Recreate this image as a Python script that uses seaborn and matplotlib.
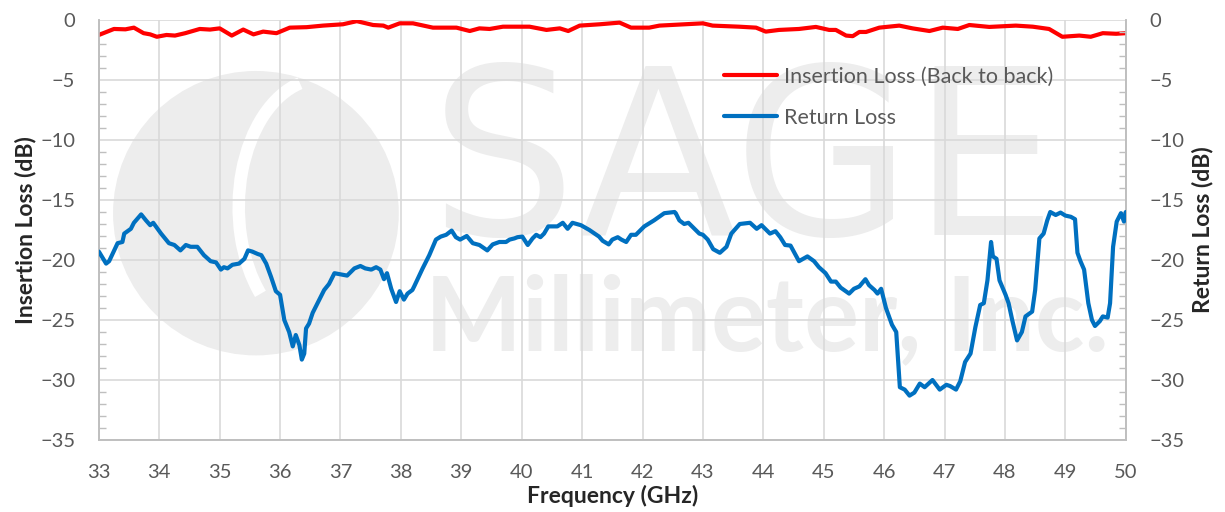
import pandas as pd
import matplotlib.pyplot as plt
import seaborn as sns
from matplotlib.patches import Ellipse, Arc
from matplotlib.ticker import MultipleLocator

# Insertion loss (back to back), left axis
il_freq = [33.00, 33.25, 33.44, 33.58, 33.74, 33.85, 33.96, 34.12, 34.26, 34.43,
           34.67, 34.84, 35.00, 35.20, 35.39, 35.56, 35.72, 35.94, 36.16, 36.44,
           36.71, 37.04, 37.27, 37.54, 37.71, 37.79, 37.98, 38.20, 38.53, 38.92,
           39.14, 39.30, 39.47, 39.69, 40.13, 40.41, 40.63, 40.77, 40.96, 41.29,
           41.62, 41.81, 42.11, 42.28, 43.00, 43.16, 43.60, 43.88, 44.04, 44.26,
           44.59, 44.87, 45.09, 45.20, 45.37, 45.48, 45.59, 45.70, 45.92, 46.25,
           46.47, 46.75, 46.97, 47.22, 47.41, 47.74, 48.18, 48.46, 48.73, 48.95,
           49.23, 49.42, 49.62, 49.84, 50.00]
il_db = [-1.25, -0.75, -0.78, -0.64, -1.10, -1.20, -1.40, -1.25, -1.30, -1.10,
         -0.75, -0.80, -0.70, -1.30, -0.80, -1.20, -0.97, -1.10, -0.64, -0.60,
         -0.47, -0.36, -0.10, -0.42, -0.47, -0.64, -0.28, -0.28, -0.64, -0.64,
         -0.92, -0.70, -0.75, -0.56, -0.56, -0.83, -0.70, -0.92, -0.47, -0.36,
         -0.22, -0.64, -0.64, -0.47, -0.28, -0.47, -0.56, -0.64, -0.97, -0.83,
         -0.75, -0.58, -0.83, -0.83, -1.30, -1.35, -1.00, -1.00, -0.64, -0.47,
         -0.70, -0.92, -0.64, -0.75, -0.42, -0.58, -0.47, -0.56, -0.75, -1.40,
         -1.30, -1.40, -1.10, -1.15, -1.10]

# Return loss, right axis
rl_freq = [33.00, 33.12, 33.17, 33.31, 33.39, 33.42, 33.53, 33.58, 33.70, 33.78,
           33.85, 33.90, 34.03, 34.16, 34.25, 34.35, 34.44, 34.52, 34.63, 34.74,
           34.85, 34.94, 35.02, 35.07, 35.13, 35.21, 35.32, 35.41, 35.47, 35.54,
           35.63, 35.69, 35.77, 35.85, 35.93, 36.00, 36.07, 36.15, 36.21, 36.26,
           36.32, 36.36, 36.40, 36.43, 36.48, 36.54, 36.62, 36.73, 36.81, 36.90,
           37.01, 37.11, 37.23, 37.33, 37.41, 37.51, 37.59, 37.66, 37.72, 37.77,
           37.84, 37.92, 37.98, 38.05, 38.11, 38.19, 38.22, 38.36, 38.47, 38.58,
           38.66, 38.75, 38.84, 38.91, 38.98, 39.09, 39.19, 39.30, 39.43, 39.52,
           39.63, 39.74, 39.80, 39.88, 39.93, 40.01, 40.10, 40.18, 40.24, 40.31,
           40.37, 40.44, 40.54, 40.59, 40.68, 40.76, 40.84, 40.98, 41.12, 41.28,
           41.34, 41.44, 41.50, 41.59, 41.65, 41.73, 41.81, 41.89, 42.03, 42.19,
           42.36, 42.53, 42.55, 42.61, 42.69, 42.76, 42.86, 42.94, 43.00, 43.08,
           43.17, 43.28, 43.39, 43.47, 43.61, 43.78, 43.89, 43.97, 44.11, 44.20,
           44.28, 44.36, 44.45, 44.59, 44.73, 44.84, 44.92, 45.03, 45.12, 45.20,
           45.28, 45.42, 45.50, 45.59, 45.69, 45.75, 45.84, 45.89, 45.95, 46.03,
           46.13, 46.20, 46.26, 46.34, 46.42, 46.50, 46.59, 46.67, 46.80, 46.92,
           47.03, 47.09, 47.19, 47.26, 47.34, 47.43, 47.51, 47.59, 47.65, 47.71,
           47.77, 47.80, 47.86, 47.91, 48.01, 48.06, 48.12, 48.20, 48.28, 48.34,
           48.45, 48.50, 48.57, 48.64, 48.70, 48.75, 48.84, 48.92, 49.00, 49.09,
           49.16, 49.20, 49.25, 49.31, 49.38, 49.44, 49.49, 49.57, 49.62, 49.70,
           49.74, 49.79, 49.85, 49.92, 49.97, 50.00]
rl_db = [-19.3, -20.3, -20.1, -18.6, -18.5, -17.8, -17.4, -16.9, -16.2, -16.7,
         -17.1, -16.9, -17.8, -18.6, -18.75, -19.2, -18.75, -18.9, -18.9, -19.6,
         -20.1, -20.2, -20.8, -20.6, -20.7, -20.4, -20.3, -19.9, -19.2, -19.3,
         -19.5, -19.6, -20.3, -21.4, -22.6, -22.9, -25.0, -26.0, -27.2, -26.25,
         -27.1, -28.3, -27.8, -25.7, -25.3, -24.4, -23.6, -22.5, -22.0, -21.1,
         -21.2, -21.3, -20.7, -20.5, -20.7, -20.8, -20.6, -20.8, -21.6, -21.1,
         -22.4, -23.5, -22.6, -23.3, -22.8, -22.5, -22.2, -20.7, -19.6, -18.3,
         -18.05, -17.9, -17.55, -18.1, -18.3, -18.0, -18.6, -18.75, -19.2, -18.7,
         -18.5, -18.5, -18.3, -18.2, -18.1, -18.05, -18.75, -18.2, -17.9, -18.1,
         -17.8, -17.2, -17.2, -17.2, -16.9, -17.4, -16.9, -17.1, -17.5, -18.05,
         -18.4, -18.7, -18.3, -18.1, -18.3, -18.5, -17.9, -17.9, -17.2, -16.7,
         -16.1, -16.0, -16.1, -16.7, -17.0, -16.9, -17.4, -17.8, -17.9, -18.3,
         -19.1, -19.4, -18.9, -17.8, -17.0, -16.9, -17.4, -17.1, -17.8, -17.6,
         -18.1, -18.75, -18.8, -20.1, -19.7, -20.1, -20.6, -21.1, -21.8, -21.8,
         -22.3, -22.8, -22.4, -22.2, -21.6, -22.1, -22.5, -22.8, -22.4, -24.0,
         -25.4, -26.0, -30.6, -30.8, -31.3, -31.05, -30.3, -30.6, -30.0, -30.8,
         -30.4, -30.5, -30.8, -30.1, -28.5, -27.8, -25.6, -23.75, -23.6, -21.7,
         -18.5, -19.7, -19.9, -21.7, -22.9, -23.6, -25.0, -26.7, -26.0, -24.7,
         -24.3, -22.5, -18.2, -17.8, -16.7, -16.0, -16.25, -16.05, -16.3, -16.4,
         -16.6, -19.4, -20.1, -20.8, -23.6, -25.0, -25.5, -25.1, -24.7, -24.8,
         -23.6, -18.9, -16.8, -16.1, -16.8, -16.0]

x_ticks = list(range(33, 51))
y_ticks = [0, -5, -10, -15, -20, -25, -30, -35]

il_df = pd.DataFrame({"freq": il_freq, "db": il_db})
rl_df = pd.DataFrame({"freq": rl_freq, "db": rl_db})

sns.set_style("white")
plt.rcParams["font.family"] = ["Lato", "DejaVu Sans"]

TICK_COLOR = "#595959"
SPINE_COLOR = "#bfbfbf"
GRID_COLOR = "#d9d9d9"
WM_COLOR = "#ededed"

fig = plt.figure(figsize=(12.25, 5.12), dpi=100)
ax = fig.add_axes([0.0807, 0.1406, 0.8383, 0.8204])
ax2 = ax.twinx()

# faint company logo / watermark behind the data
ax.add_patch(Ellipse((35.60, -16.1), 4.73, 23.7, color=WM_COLOR, lw=0, zorder=0.1))
ax.add_patch(Arc((36.69, -15.6), 2.75, 21.4, theta1=92, theta2=262,
                 color="white", lw=9, zorder=0.2))
ax.text(0.322, 0.488, "SAGE", transform=ax.transAxes, fontsize=166,
        family="DejaVu Sans", color=WM_COLOR, ha="left", va="baseline",
        zorder=0.1)
ax.text(0.318, 0.214, "Millimeter, Inc.", transform=ax.transAxes, fontsize=74,
        color=WM_COLOR, fontweight="bold", ha="left", va="baseline", zorder=0.1)

sns.lineplot(data=il_df, x="freq", y="db", ax=ax, color="#ff0000",
             linewidth=3, estimator=None, label="Insertion Loss (Back to back)",
             legend=False, zorder=3)
sns.lineplot(data=rl_df, x="freq", y="db", ax=ax2, color="#0070c0",
             linewidth=3, estimator=None, label="Return Loss",
             legend=False, zorder=3)

for a in (ax, ax2):
    a.set_xlim(33, 50)
    a.set_ylim(-35, 0)
    a.set_yticks(y_ticks)
    a.yaxis.set_minor_locator(MultipleLocator(1))
    a.tick_params(axis="both", which="major", length=0, pad=17,
                  labelsize=14.5, labelcolor=TICK_COLOR)
    a.tick_params(axis="both", which="minor", direction="in", length=5,
                  width=1, color=SPINE_COLOR)
    for side in ("left", "right", "bottom"):
        a.spines[side].set_color(SPINE_COLOR)
        a.spines[side].set_linewidth(1.2)
    a.spines["top"].set_visible(False)

ax.set_xticks(x_ticks)
ax.xaxis.set_minor_locator(MultipleLocator(0.5))
ax.grid(True, which="major", color=GRID_COLOR, linewidth=1.2)
ax.set_axisbelow(True)
ax2.grid(False)
ax.patch.set_visible(False)
ax2.patch.set_visible(False)

ax.set_xlabel("Frequency (GHz)", fontsize=16.5, fontweight="bold", labelpad=3)
ax.set_ylabel("Insertion Loss (dB)", fontsize=16.5, fontweight="bold", labelpad=3)
ax2.set_ylabel("Return Loss (dB)", fontsize=16.5, fontweight="bold", labelpad=5)

handles = ax.get_lines()[:1] + ax2.get_lines()[:1]
leg = ax2.legend(handles, [h.get_label() for h in handles],
                 loc="upper left", bbox_to_anchor=(0.6, 0.91), frameon=False,
                 fontsize=15.5, handlelength=2.5, handletextpad=0.3,
                 labelspacing=1.0, borderaxespad=0)
for t in leg.get_texts():
    t.set_color(TICK_COLOR)

fig.savefig("out.png", dpi=100)
